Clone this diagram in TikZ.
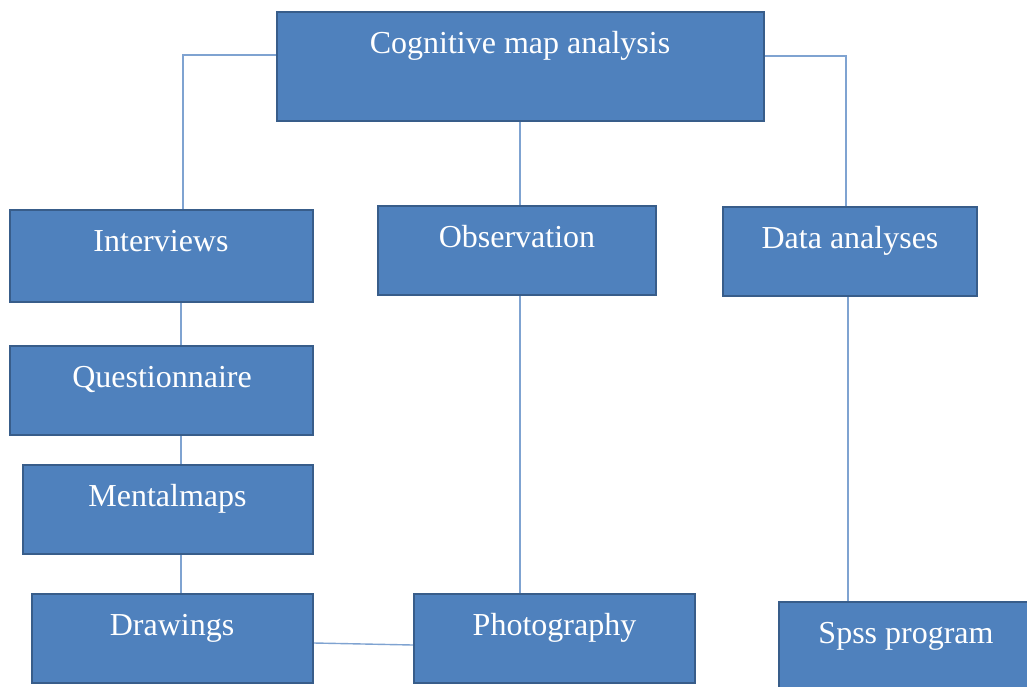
\documentclass[tikz,border=0pt]{standalone}
\usepackage{fontspec}
\setmainfont{Liberation Serif}
\definecolor{boxfill}{HTML}{4F81BD}
\definecolor{boxedge}{HTML}{385D8A}
\definecolor{linkc}{HTML}{7FA3D1}
\begin{document}
\begin{tikzpicture}[x=1pt,y=-1pt,
  box/.style={draw=boxedge, fill=boxfill, line width=2.3pt, rectangle, inner sep=0pt},
  txt/.style={text=white, font=\fontsize{32}{35}\selectfont, inner sep=0pt, anchor=base},
  link/.style={draw=linkc, line width=1.4pt}]
\useasboundingbox (0,0) rectangle (1027,686);
\clip (0,0) rectangle (1027,686);
% boxes
\node[box, minimum width=487pt, minimum height=109pt] (cog) at (520.5,66.5) {};
\node[box, minimum width=303pt, minimum height=92pt] (int) at (161.5,256) {};
\node[box, minimum width=278pt, minimum height=89pt] (obs) at (517,250.5) {};
\node[box, minimum width=254pt, minimum height=89pt] (dat) at (850,251.5) {};
\node[box, minimum width=303pt, minimum height=89pt] (que) at (161.5,390.5) {};
\node[box, minimum width=290pt, minimum height=89pt] (men) at (168,509.5) {};
\node[box, minimum width=281pt, minimum height=89pt] (dra) at (172.5,638.5) {};
\node[box, minimum width=281pt, minimum height=89pt] (pho) at (554.5,638.5) {};
\node[box, minimum width=254pt, minimum height=89pt] (sps) at (906,646.5) {};
% texts
\node[txt] (tcog) at (520,53) {Cognitive map analysis};
\node[txt] (tint) at (161,251) {Interviews};
\node[txt] (tobs) at (517,247) {Observation};
\node[txt] (tdat) at (850,248) {Data analyses};
\node[txt] (tque) at (162,387) {Questionnaire};
\node[txt] (tmen) at (167.5,506) {Mentalmaps};
\node[txt] (tdra) at (172,635) {Drawings};
\node[txt] (tpho) at (554.5,635) {Photography};
\node[txt] (tsps) at (906,643) {Spss program};
% connectors
\draw[link] (cog.west |- 0,55) -| (int.north -| 183,0);
\draw[link] (cog.east |- 0,56) -| (dat.north -| 846,0);
\draw[link] (cog.south -| 520,0) -- (obs.north -| 520,0);
\draw[link] (int.south -| 181,0) -- (que.north -| 181,0);
\draw[link] (que.south -| 181,0) -- (men.north -| 181,0);
\draw[link] (men.south -| 181,0) -- (dra.north -| 181,0);
\draw[link] (obs.south -| 520,0) -- (pho.north -| 520,0);
\draw[link] (dat.south -| 848,0) -- (sps.north -| 848,0);
\draw[link] (dra.east |- 0,643) -- (pho.west |- 0,645);
\end{tikzpicture}
\end{document}
